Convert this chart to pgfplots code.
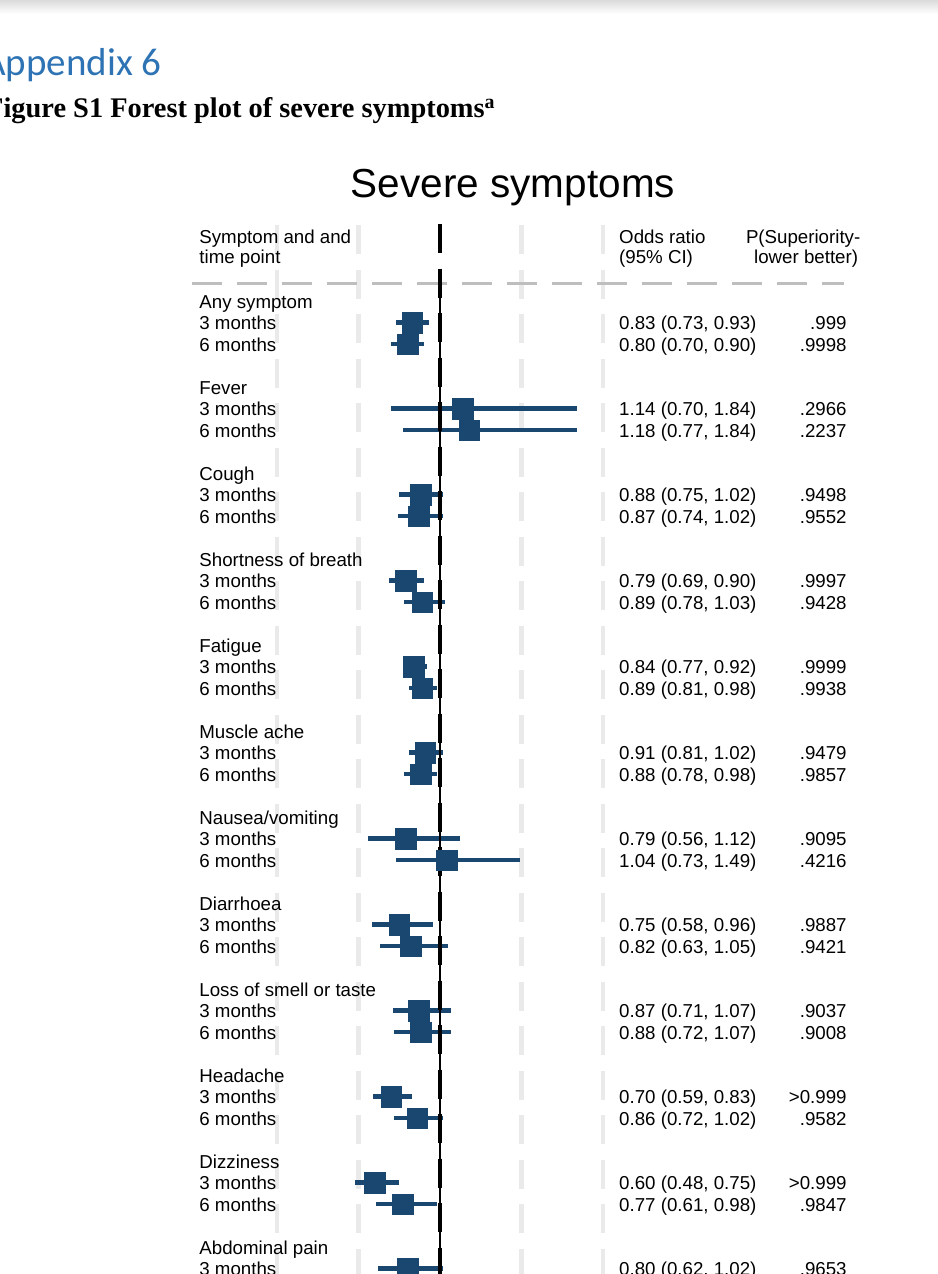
\documentclass[border=0pt]{standalone}
\usepackage{fontspec}
\usepackage{pgfplots}
\usepackage{pgfplotstable}
\pgfplotsset{compat=1.18}
\setmainfont{Liberation Sans}
\newfontfamily\seriffont{Liberation Serif}
\newfontfamily\calfont{Carlito}
\definecolor{stnavy}{RGB}{26,71,111}
\definecolor{gridgray}{RGB}{234,234,234}
\definecolor{divgray}{RGB}{190,190,190}
\definecolor{headblue}{RGB}{46,116,181}
\newcommand\bodyfont{\fontsize{18.7bp}{21.5bp}\selectfont}

% row index r: centre of row at 301 + 21.5 r (px from top)
\pgfplotstableread[col sep=semicolon]{
r;or;lo;hi;ci;p
1;0.83;0.73;0.93;0.83 (0.73, 0.93);.999
2;0.80;0.70;0.90;0.80 (0.70, 0.90);.9998
5;1.14;0.70;1.84;1.14 (0.70, 1.84);.2966
6;1.18;0.77;1.84;1.18 (0.77, 1.84);.2237
9;0.88;0.75;1.02;0.88 (0.75, 1.02);.9498
10;0.87;0.74;1.02;0.87 (0.74, 1.02);.9552
13;0.79;0.69;0.90;0.79 (0.69, 0.90);.9997
14;0.89;0.78;1.03;0.89 (0.78, 1.03);.9428
17;0.84;0.77;0.92;0.84 (0.77, 0.92);.9999
18;0.89;0.81;0.98;0.89 (0.81, 0.98);.9938
21;0.91;0.81;1.02;0.91 (0.81, 1.02);.9479
22;0.88;0.78;0.98;0.88 (0.78, 0.98);.9857
25;0.79;0.56;1.12;0.79 (0.56, 1.12);.9095
26;1.04;0.73;1.49;1.04 (0.73, 1.49);.4216
29;0.75;0.58;0.96;0.75 (0.58, 0.96);.9887
30;0.82;0.63;1.05;0.82 (0.63, 1.05);.9421
33;0.87;0.71;1.07;0.87 (0.71, 1.07);.9037
34;0.88;0.72;1.07;0.88 (0.72, 1.07);.9008
37;0.70;0.59;0.83;0.70 (0.59, 0.83);>0.999
38;0.86;0.72;1.02;0.86 (0.72, 1.02);.9582
41;0.60;0.48;0.75;0.60 (0.48, 0.75);>0.999
42;0.77;0.61;0.98;0.77 (0.61, 0.98);.9847
45;0.80;0.62;1.02;0.80 (0.62, 1.02);.9653
}\data

\pgfplotstableread[col sep=semicolon]{
r;label
-3;Symptom and and
-2.07;time point
0;Any symptom
1;3 months
2;6 months
4;Fever
5;3 months
6;6 months
8;Cough
9;3 months
10;6 months
12;Shortness of breath
13;3 months
14;6 months
16;Fatigue
17;3 months
18;6 months
20;Muscle ache
21;3 months
22;6 months
24;Nausea/vomiting
25;3 months
26;6 months
28;Diarrhoea
29;3 months
30;6 months
32;Loss of smell or taste
33;3 months
34;6 months
36;Headache
37;3 months
38;6 months
40;Dizziness
41;3 months
42;6 months
44;Abdominal pain
45;3 months
}\labels

\begin{document}
\begin{tikzpicture}
\useasboundingbox (0,0) rectangle (938bp,-1274bp);
\shade[top color=black!14, bottom color=white] (0,0) rectangle (938bp,-14bp);
\node[anchor=base west, inner sep=0pt, text=headblue, font=\calfont\fontsize{39bp}{44bp}\selectfont] at (-17bp,-75bp) {Appendix 6};
\node[anchor=base west, inner sep=0pt, font=\seriffont\bfseries\fontsize{28.4bp}{32bp}\selectfont] at (-14bp,-117bp) {Figure S1 Forest plot of severe symptoms\textsuperscript{a}};
\node[anchor=base, inner sep=0pt, font=\fontsize{40.5bp}{46bp}\selectfont] at (513bp,-197bp) {Severe symptoms};
% column headers
\node[anchor=base west, inner sep=0pt, font=\bodyfont] at (619bp,-243bp) {Odds ratio};
\node[anchor=base west, inner sep=0pt, font=\bodyfont] at (619bp,-263.5bp) {(95\% CI)};
\node[anchor=base east, inner sep=0pt, font=\bodyfont] at (860.5bp,-243bp) {P(Superiority-};
\node[anchor=base east, inner sep=0pt, font=\bodyfont] at (858.3bp,-263.5bp) {lower better)};

\begin{axis}[at={(0,0)}, anchor=north west, scale only axis,
  width=938bp, height=1274bp,
  xmin=-1.69939, xmax=4.05521, ymin=-14, ymax=45.25581,
  y dir=reverse, hide axis, clip=false]
% light dashed grid lines
\addplot[gridgray, line width=4.3bp, dash pattern=on 29bp off 15.5bp] coordinates {(0,-3.535) (0,46)};
\addplot[gridgray, line width=4.3bp, dash pattern=on 29bp off 15.5bp] coordinates {(0.5,-3.535) (0.5,46)};
\addplot[gridgray, line width=4.3bp, dash pattern=on 29bp off 15.5bp] coordinates {(1.5,-3.535) (1.5,46)};
\addplot[gridgray, line width=4.3bp, dash pattern=on 29bp off 15.5bp] coordinates {(2,-3.535) (2,46)};
% header divider
\addplot[divgray, line width=3bp, dash pattern=on 30bp off 15bp] coordinates {(-0.52147,-0.837) (3.47853,-0.837)};
% confidence intervals
\addplot[draw=none, mark=none, forget plot,
  error bars/.cd, x dir=both, x explicit, error mark=none,
  error bar style={draw=stnavy, line width=4.3bp, solid}]
  table[x=or, y=r, x error plus expr=\thisrow{hi}-\thisrow{or}, x error minus expr=\thisrow{or}-\thisrow{lo}] {\data};
% reference line at OR = 1
\addplot[black, line width=4.2bp, dash pattern=on 29bp off 15.5bp] coordinates {(1,-3.58) (1,46)};
\addplot[black, line width=2bp] coordinates {(1,-1.49) (1,46)};
% point estimates
\addplot[stnavy, only marks, mark=square*, mark size=10.3bp, mark options={solid, draw=stnavy, fill=stnavy, line width=0.4bp}] table[x=or, y=r] {\data};
% text columns
\addplot[draw=none, mark=none, nodes near coords, point meta=explicit symbolic,
  nodes near coords style={font=\bodyfont, anchor=base west, inner sep=0pt, xshift=-240.8bp, yshift=-7bp, text=black}]
  table[x expr=1, y=r, meta=label] {\labels};
\addplot[draw=none, mark=none, nodes near coords, point meta=explicit symbolic,
  nodes near coords style={font=\bodyfont, anchor=base west, inner sep=0pt, xshift=179bp, yshift=-7bp, text=black}]
  table[x expr=1, y=r, meta=ci] {\data};
\addplot[draw=none, mark=none, nodes near coords, point meta=explicit symbolic,
  nodes near coords style={font=\bodyfont, anchor=base east, inner sep=0pt, xshift=406.8bp, yshift=-7bp, text=black}]
  table[x expr=1, y=r, meta=p] {\data};
\end{axis}
\end{tikzpicture}
\end{document}
